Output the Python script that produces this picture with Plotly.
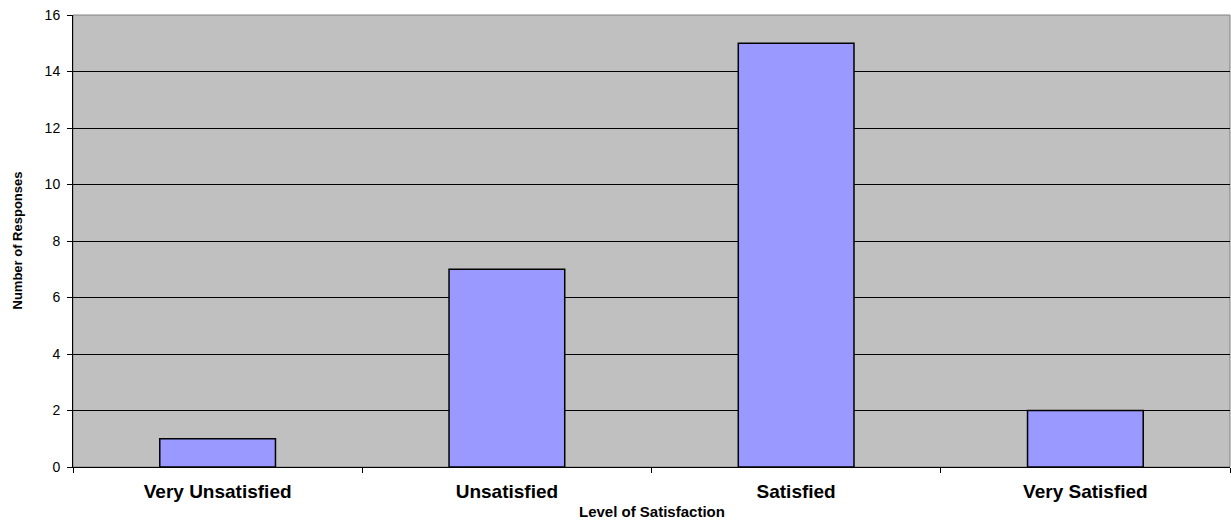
import plotly.graph_objects as go

# Survey results: number of responses per satisfaction level
levels = ["Very Unsatisfied", "Unsatisfied", "Satisfied", "Very Satisfied"]
responses = [1, 7, 15, 2]
y_ticks = [0, 2, 4, 6, 8, 10, 12, 14, 16]

FONT = "Liberation Sans, Arial, sans-serif"

fig = go.Figure(
    go.Bar(
        x=levels,
        y=responses,
        width=0.4,
        marker=dict(color="#9999FF", line=dict(color="#000000", width=1.5)),
        showlegend=False,
    )
)

fig.update_layout(
    width=1231,
    height=523,
    margin=dict(l=73, r=1, t=15, b=56),
    paper_bgcolor="#FFFFFF",
    plot_bgcolor="#C0C0C0",
    font=dict(family=FONT, color="#000000"),
    bargap=0.6,
)

fig.update_xaxes(
    type="category",
    tickson="boundaries",
    ticks="outside",
    ticklen=5,
    tickcolor="#000000",
    showline=True,
    linecolor="#000000",
    linewidth=1,
    showgrid=False,
    tickfont=dict(family=FONT, size=19, color="#000000", weight="bold"),
    ticklabelstandoff=7,
    range=[-0.5, 3.5],
)

fig.update_yaxes(
    range=[0, 16],
    tickvals=y_ticks,
    ticks="outside",
    ticklen=5,
    tickcolor="#000000",
    showline=True,
    linecolor="#000000",
    linewidth=1,
    showgrid=True,
    gridcolor="#000000",
    gridwidth=1,
    zeroline=False,
    tickfont=dict(family=FONT, size=14, color="#000000"),
    ticklabelstandoff=4,
)

# light frame along the top and right of the plotting area
fig.add_shape(
    type="rect", xref="paper", yref="paper", x0=0, x1=1, y0=0, y1=1,
    line=dict(color="#808080", width=1), fillcolor="rgba(0,0,0,0)", layer="below",
)

fig.add_annotation(
    text="<b>Level of Satisfaction</b>", xref="paper", yref="paper",
    x=0.5, y=0, yshift=-55, showarrow=False,
    font=dict(family=FONT, size=15, color="#000000"),
)
fig.add_annotation(
    text="<b>Number of Responses</b>", xref="paper", yref="paper",
    x=0, xshift=-66, y=0.5, textangle=-90, showarrow=False,
    font=dict(family=FONT, size=13, color="#000000"),
)

fig.write_html("out.html")
